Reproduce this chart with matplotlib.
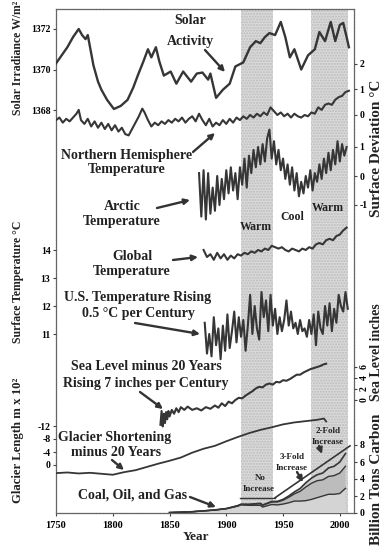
import matplotlib
matplotlib.use('Agg')
import matplotlib.pyplot as plt
import numpy as np

plt.rcParams['font.family'] = ['Liberation Serif', 'DejaVu Serif']
plt.rcParams['font.weight'] = 'bold'
plt.rcParams['axes.unicode_minus'] = False
plt.rcParams['hatch.color'] = '#bcbcbc'

# ---------------- data ----------------
solar_years = [1750,1755,1760,1765,1770,1773,1776,1778,1780,1783,1787,1790,1795,1801,1807,1813,1818,1822,1827,1831,1834,1838,1841,1845,1851,1856,1862,1869,1874,1879,1884,1886,1891,1897,1903,1908,1915,1921,1926,1930,1934,1938,1943,1948,1952,1956,1960,1966,1972,1978,1982,1987,1992,1996,2000,2003,2006,2008]
solar_vals = [1370.3,1370.7,1371.1,1371.6,1372.0,1371.7,1371.5,1371.7,1371.1,1370.2,1369.4,1369.0,1368.5,1368.05,1368.2,1368.5,1369.1,1369.7,1370.4,1371.0,1370.6,1371.1,1370.4,1369.7,1369.9,1369.3,1369.9,1369.4,1369.8,1369.85,1369.5,1369.8,1368.6,1369.0,1369.3,1370.15,1370.35,1371.1,1371.4,1371.3,1371.6,1371.8,1371.7,1372.35,1371.6,1370.6,1371.0,1370.0,1370.7,1371.0,1371.85,1371.4,1372.35,1371.4,1372.2,1372.3,1371.6,1371.1]

nh_years = [1750,1753,1756,1759,1762,1765,1768,1770,1772,1775,1778,1781,1784,1787,1790,1793,1796,1799,1802,1805,1808,1811,1814,1817,1820,1823,1826,1828,1831,1834,1837,1840,1843,1846,1849,1852,1855,1858,1861,1864,1867,1870,1873,1876,1879,1882,1885,1888,1891,1894,1897,1900,1903,1906,1909,1912,1915,1918,1921,1924,1927,1930,1933,1936,1939,1942,1945,1948,1951,1954,1957,1960,1963,1966,1969,1972,1975,1978,1981,1984,1987,1990,1993,1996,1999,2002,2005,2008]
nh_vals = [-0.2,-0.1,-0.3,-0.15,-0.25,-0.1,0.05,0.2,-0.2,-0.35,-0.15,-0.45,-0.25,-0.5,-0.3,-0.55,-0.35,-0.6,-0.4,-0.65,-0.5,-0.75,-0.8,-0.55,-0.3,-0.05,0.25,0.1,-0.2,-0.45,-0.3,-0.4,-0.25,-0.35,-0.2,-0.3,-0.15,-0.25,-0.1,-0.3,-0.15,-0.05,-0.25,0.05,-0.2,-0.4,-0.15,-0.45,-0.3,-0.4,-0.2,-0.35,-0.15,-0.3,-0.1,-0.2,-0.05,-0.15,0.0,-0.1,0.05,-0.05,0.1,0.0,0.3,0.15,0.0,0.1,-0.05,0.05,-0.1,0.05,-0.05,-0.1,0.0,-0.05,0.1,0.05,0.3,0.2,0.4,0.45,0.4,0.6,0.7,0.75,0.9,0.95]

arctic_years = list(range(1876, 2007, 2))
arctic_vals = [0.1,-1.4,0.2,-1.5,0.1,-1.3,-0.4,-1.2,0.0,-1.0,-0.1,-0.8,0.2,-0.6,0.3,-0.5,0.1,-0.8,0.3,-0.3,0.6,-0.4,0.7,0.1,0.9,0.3,1.0,0.4,1.1,0.5,1.3,1.6,0.6,1.2,0.4,0.9,0.2,0.6,-0.1,0.4,-0.3,0.3,-0.5,0.1,-0.7,-0.2,-0.6,0.0,-0.4,0.2,-0.5,0.1,-0.2,0.4,-0.1,0.6,0.1,0.8,0.2,0.9,0.4,1.2,0.5,1.1,0.7,1.0]

global_years = list(range(1880, 2007, 3))
global_vals = [14.0,13.75,13.85,13.65,13.9,13.7,13.85,13.65,13.8,13.7,13.85,13.8,13.9,13.85,13.95,13.9,14.0,13.95,14.05,14.0,14.15,14.1,14.05,14.1,14.0,13.95,14.05,14.0,13.95,14.05,14.0,14.1,14.05,14.2,14.25,14.2,14.35,14.4,14.35,14.5,14.55,14.7,14.8]

us_years = list(range(1881, 2008, 2))
us_vals = [11.4,10.3,11.0,10.2,11.6,10.6,11.2,10.1,11.3,10.4,11.7,10.5,11.1,11.8,10.7,11.6,10.9,11.5,10.4,11.3,12.4,11.0,12.0,11.2,10.8,12.5,11.6,12.2,11.1,12.4,11.3,11.9,11.0,11.6,11.1,11.5,12.2,11.3,11.8,11.2,11.4,11.0,11.5,11.1,11.2,10.9,11.5,11.0,11.7,10.6,11.8,11.2,11.0,12.0,11.3,12.1,11.1,11.9,11.4,12.4,12.0,11.8,12.5,11.9]

sea_years = [1842,1843,1844,1845,1846,1847,1848,1849,1850,1852,1854,1856,1858,1860,1863,1866,1870,1874,1878,1882,1886,1890,1893,1896,1899,1902,1905,1908,1911,1914,1917,1920,1923,1926,1929,1932,1935,1938,1941,1944,1947,1950,1953,1956,1959,1962,1965,1968,1971,1974,1977,1980,1983,1986,1988]
sea_vals = [-4.5,-2.0,-4.8,-2.5,-4.2,-2.2,-3.5,-2.0,-3.0,-1.8,-2.5,-1.5,-2.2,-1.3,-1.8,-1.2,-1.8,-1.5,-1.9,-1.3,-1.6,-1.0,-1.4,-0.6,-1.1,-0.3,-0.6,0.0,0.4,0.3,0.8,1.2,1.6,2.1,2.4,2.3,2.8,3.0,2.8,3.3,3.2,3.6,3.5,3.8,4.2,4.6,4.6,5.0,5.3,5.6,5.8,6.0,6.2,6.5,6.6]

glacier_years = [1750,1760,1770,1780,1790,1800,1810,1820,1830,1840,1850,1860,1870,1880,1890,1900,1910,1920,1930,1940,1950,1960,1970,1980,1986,1988]
glacier_vals = [2.5,2.3,2.6,2.4,2.7,3.0,2.2,1.6,0.6,-0.4,-1.3,-2.3,-3.8,-5.0,-5.9,-7.3,-8.6,-9.8,-10.8,-11.6,-12.5,-13.1,-13.5,-13.9,-14.3,-13.4]

carbon_years = [1850,1860,1870,1880,1890,1900,1910,1913,1920,1930,1932,1940,1945,1950,1955,1960,1965,1970,1975,1980,1985,1990,1995,2000,2005]
coal = [0.05,0.1,0.15,0.25,0.35,0.5,0.8,0.95,0.9,0.9,0.7,1.0,0.95,1.05,1.2,1.4,1.4,1.45,1.6,1.8,2.0,2.2,2.2,2.3,2.9]
oil = [0,0,0,0,0.01,0.02,0.05,0.07,0.1,0.2,0.2,0.3,0.35,0.45,0.65,0.85,1.15,1.6,1.9,2.0,1.9,2.1,2.2,2.4,2.6]
gas = [0,0,0,0,0,0,0.01,0.01,0.02,0.04,0.04,0.06,0.07,0.1,0.15,0.23,0.33,0.5,0.6,0.7,0.8,1.0,1.1,1.3,1.5]
no_incr_years = [1912, 1943]
no_incr_vals = [1.8, 1.8]
trend_years = [1943, 2009]
trend_vals = [1.8, 7.9]

bands = [(1913, 1941), (1975, 2007)]
xticks = [1750, 1800, 1850, 1900, 1950, 2000]

# ---------------- layout ----------------
W, H = 384, 546
L, R, T, B = 56, 354, 9, 513
fig = plt.figure(figsize=(W/100, H/100), dpi=100)
rect = [L/W, 1 - B/H, (R - L)/W, (B - T)/H]
ax = fig.add_axes(rect)
ax.set_xlim(1750, 2012.5)
ax.set_ylim(0, 1)
ax.set_yticks([])
ax.set_xticks(xticks)
ax.tick_params(axis='x', labelsize=7.5, length=2.5, pad=3, color='#444')
for sp in ax.spines.values():
    sp.set_color('#666666')
    sp.set_linewidth(0.9)
    sp.set_linestyle((0, (2, 0.7)))
for a0, a1 in bands:
    ax.axvspan(a0, a1, facecolor='#dadada', edgecolor='#bcbcbc', hatch='......', lw=0, zorder=0)

LC = '#363636'

def P(x, y):
    return (x / W, 1 - y / H)

def overlay(v1, p1, v2, p2, side=None, ticks=None, rot=0):
    a = fig.add_axes(rect, sharex=ax)
    a.patch.set_visible(False)
    for sp in a.spines.values():
        sp.set_visible(False)
    a.tick_params(axis='x', which='both', bottom=False, top=False, labelbottom=False)
    s = (p2 - p1) / (v2 - v1)
    a.set_ylim(v1 + (B - p1) / s, v1 + (T - p1) / s)
    if side is None:
        a.set_yticks([])
    else:
        a.set_yticks(ticks)
        if side == 'right':
            a.yaxis.tick_right()
        else:
            a.yaxis.tick_left()
        a.tick_params(axis='y', labelsize=7, length=2.5, pad=1.5, color='#444')
        for lab in a.get_yticklabels():
            lab.set_rotation(rot)
            if rot:
                lab.set_va('center')
    return a

# Solar irradiance
a = overlay(1372, 29, 1368, 110, 'left', [1368, 1370, 1372])
a.plot(solar_years, solar_vals, color=LC, lw=1.7)
# NH temperature
a = overlay(2, 64, 0, 115, 'right', [0, 1, 2])
a.plot(nh_years, nh_vals, color=LC, lw=1.5)
# Arctic
a = overlay(1, 147, -1, 205, 'right', [-1, 0, 1])
a.plot(arctic_years, arctic_vals, color=LC, lw=1.5)
# Global & US on surface temperature scale
a = overlay(14, 250, 11, 334, 'left', [11, 12, 13, 14])
a.plot(global_years, global_vals, color=LC, lw=1.5)
a.plot(us_years, us_vals, color=LC, lw=1.5)
# Sea level
a = overlay(6, 367, 0, 400, 'right', [0, 2, 4, 6], rot=90)
a.plot(sea_years, sea_vals, color=LC, lw=1.5)
# Glacier
a = overlay(0, 465, -12, 426, 'left', [-12, -8, -4, 0])
a.plot(glacier_years, glacier_vals, color=LC, lw=1.3)
# Carbon
a = overlay(8, 445, 0, 513, 'right', [0, 2, 4, 6, 8])
c1 = np.array(coal)
c2 = c1 + np.array(oil)
c3 = c2 + np.array(gas)
a.fill_between(carbon_years, 0, c1, facecolor='#d4d4d4', edgecolor='none')
a.fill_between(carbon_years, c1, c2, facecolor='#bcbcbc', edgecolor='none')
a.fill_between(carbon_years, c2, c3, facecolor='#cccccc', edgecolor='none')
a.plot(carbon_years, c1, color=LC, lw=1.0)
a.plot(carbon_years, c2, color=LC, lw=1.0)
a.plot(carbon_years, c3, color=LC, lw=1.2)
a.plot(no_incr_years, no_incr_vals, color=LC, lw=1.0)
a.plot(trend_years, trend_vals, color=LC, lw=1.2)

# ---------------- texts ----------------
tk = dict(ha='center', va='center', fontweight='bold', color='#222')
fs = 10
fig.text(*P(190, 20), 'Solar', fontsize=fs, **tk)
fig.text(*P(190, 42), 'Activity', fontsize=fs, **tk)
fig.text(*P(127, 155), 'Northern Hemisphere', fontsize=fs, **tk)
fig.text(*P(127, 170), 'Temperature', fontsize=fs, **tk)
fig.text(*P(122, 206), 'Arctic', fontsize=fs, **tk)
fig.text(*P(122, 221), 'Temperature', fontsize=fs, **tk)
fig.text(*P(132, 257), 'Global', fontsize=fs, **tk)
fig.text(*P(132, 271), 'Temperature', fontsize=fs, **tk)
fig.text(*P(138, 298), 'U.S. Temperature Rising', fontsize=fs, **tk)
fig.text(*P(138, 313), '0.5 °C per Century', fontsize=fs, **tk)
fig.text(*P(146, 367), 'Sea Level minus 20 Years', fontsize=fs, **tk)
fig.text(*P(146, 383), 'Rising 7 inches per Century', fontsize=fs, **tk)
fig.text(*P(115, 437), 'Glacier Shortening', fontsize=fs, **tk)
fig.text(*P(116, 452), 'minus 20 Years', fontsize=fs, **tk)
fig.text(*P(133, 495), 'Coal, Oil, and Gas', fontsize=fs, **tk)
fig.text(*P(256, 227), 'Warm', fontsize=8.5, **tk)
fig.text(*P(292, 217), 'Cool', fontsize=8.5, **tk)
fig.text(*P(328, 208), 'Warm', fontsize=8.5, **tk)
fig.text(*P(260, 478), 'No', fontsize=6.5, **tk)
fig.text(*P(259, 489), 'Increase', fontsize=6.5, **tk)
fig.text(*P(292, 457), '3-Fold', fontsize=6.5, **tk)
fig.text(*P(292, 468), 'Increase', fontsize=6.5, **tk)
fig.text(*P(328, 431), '2-Fold', fontsize=6.5, **tk)
fig.text(*P(328, 442), 'Increase', fontsize=6.5, **tk)

# axis labels
fig.text(*P(18, 58), 'Solar Irradiance W/m²', rotation=90, fontsize=8.5, **tk)
fig.text(*P(18, 282), 'Surface Temperature °C', rotation=90, fontsize=8.5, **tk)
fig.text(*P(18, 440), 'Glacier Length m x 10²', rotation=90, fontsize=9.2, **tk)
fig.text(*P(376, 148), 'Surface Deviation °C', rotation=90, fontsize=11, **tk)
fig.text(*P(376, 352), 'Sea Level inches', rotation=90, fontsize=10, **tk)
fig.text(*P(376, 479), 'Billion Tons Carbon', rotation=90, fontsize=11, **tk)
fig.text(*P(196, 537), 'Year', fontsize=9.5, **tk)

# arrows
ap = dict(arrowstyle='-|>', color='#333', lw=1.7, mutation_scale=8, shrinkA=0, shrinkB=0)
arrows = [((205, 50), (225, 72)), ((193, 152), (215, 133)), ((157, 208), (190, 200)),
          ((173, 260), (198, 257)), ((135, 323), (200, 334)), ((140, 392), (163, 409)),
          ((112, 460), (124, 470)), ((190, 497), (216, 507)), ((297, 472), (303, 482)),
          ((319, 446), (322, 454))]
for (x0, y0), (x1, y1) in arrows:
    ax.annotate('', xy=P(x1, y1), xytext=P(x0, y0), xycoords='figure fraction',
                textcoords='figure fraction', arrowprops=ap)

fig.savefig('out.png', dpi=100)
